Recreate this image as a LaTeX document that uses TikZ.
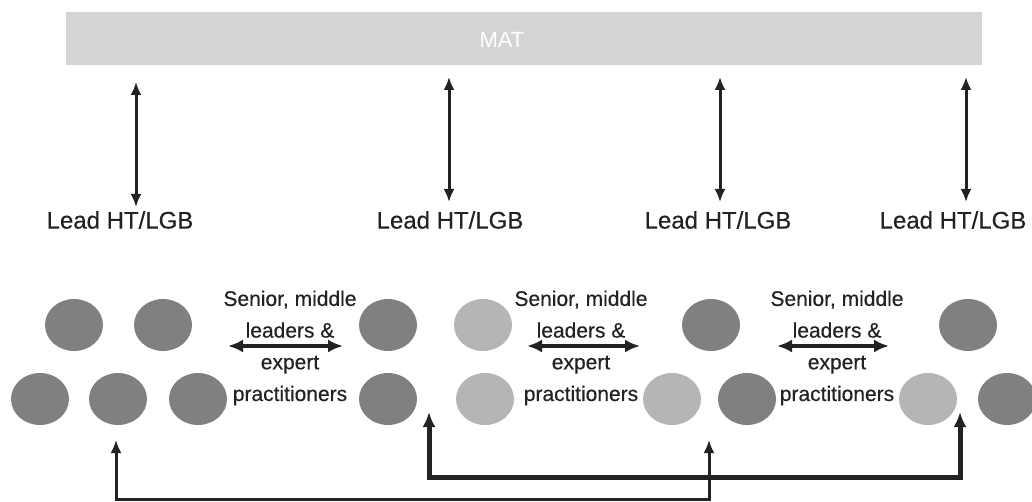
\documentclass[tikz,border=0pt]{standalone}
\usepackage{fontspec}
\setmainfont{Liberation Sans}
\newfontfamily\scanfont[FakeBold=0.4]{Liberation Sans}
\usetikzlibrary{arrows.meta,positioning,shapes.geometric}

\definecolor{speck}{HTML}{808080}
\definecolor{specklight}{HTML}{B5B5B5}
\definecolor{matgrey}{HTML}{D4D4D4}
\definecolor{ink}{HTML}{222222}

\tikzset{
  school/.style={ellipse, minimum width=58pt, minimum height=52pt, inner sep=0pt, fill=speck},
  schoollight/.style={school, fill=specklight},
  lead/.style={inner sep=0pt, text=ink, font=\scanfont\fontsize{24}{28}\selectfont},
  team/.style={inner sep=0pt, align=center, text=ink, font=\scanfont\fontsize{21}{31.7}\selectfont},
  updown/.style={draw=ink, line width=3pt, {Latex[length=13pt,width=11pt]}-{Latex[length=13pt,width=11pt]}},
  sideways/.style={draw=ink, line width=4.5pt, {Latex[length=15pt,width=13pt]}-{Latex[length=15pt,width=13pt]}},
  feedthin/.style={draw=ink, line width=3pt, {Latex[length=13pt,width=11pt]}-{Latex[length=13pt,width=11pt]}},
  feedthick/.style={draw=ink, line width=5pt, {Latex[length=15pt,width=13pt]}-{Latex[length=15pt,width=13pt]}}
}

\begin{document}
\begin{tikzpicture}[x=1pt,y=-1pt]
\useasboundingbox (0,0) rectangle (1032,502);

% the trust
\node[fill=matgrey, minimum width=916pt, minimum height=53pt, inner sep=0pt] (mat) at (524,38.5) {};
\node[text=white, font=\fontsize{22}{26}\selectfont, inner sep=0pt] (matname) at (502,40) {MAT};

% lead heads
\node[lead] (lead1) at (120,220) {Lead HT/LGB};
\node[lead] (lead2) at (450,220) {Lead HT/LGB};
\node[lead] (lead3) at (718,220) {Lead HT/LGB};
\node[lead] (lead4) at (953,220) {Lead HT/LGB};

\coordinate (up1) at (136,82);   \coordinate (down1) at (136,207);
\coordinate (up2) at (449,77);   \coordinate (down2) at (449,202);
\coordinate (up3) at (720,77);   \coordinate (down3) at (720,202);
\coordinate (up4) at (966,77);   \coordinate (down4) at (966,202);
\draw[updown] (up1) -- (down1);
\draw[updown] (up2) -- (down2);
\draw[updown] (up3) -- (down3);
\draw[updown] (up4) -- (down4);

% schools
\node[school] (s11) at (74,325) {};
\node[school] (s12) at (163,325) {};
\node[school] (s13) at (388,325) {};
\node[schoollight] (s14) at (483,325) {};
\node[school] (s15) at (711,325) {};
\node[school] (s16) at (968,325) {};

\node[school] (s21) at (40,399) {};
\node[school] (s22) at (118,399) {};
\node[school] (s23) at (198,399) {};
\node[school] (s24) at (388,399) {};
\node[schoollight] (s25) at (485,399) {};
\node[schoollight] (s26) at (672,399) {};
\node[school] (s27) at (747,399) {};
\node[schoollight] (s28) at (928,399) {};
\node[school] (s29) at (1007,399) {};

% shared staff
\node[team] (team1) at (290,348) {Senior, middle\\leaders \&\\expert\\practitioners};
\node[team] (team2) at (581,348) {Senior, middle\\leaders \&\\expert\\practitioners};
\node[team] (team3) at (837,348) {Senior, middle\\leaders \&\\expert\\practitioners};

\coordinate (l1) at (228,346); \coordinate (r1) at (343,346);
\coordinate (l2) at (527,346); \coordinate (r2) at (640,346);
\coordinate (l3) at (777,346); \coordinate (r3) at (889,346);
\draw[sideways] (l1) -- (r1);
\draw[sideways] (l2) -- (r2);
\draw[sideways] (l3) -- (r3);

% links between schools
\coordinate (fa1) at (116,440); \coordinate (fa2) at (709,440); \coordinate (fabase) at (400,499);
\coordinate (fb1) at (429,412); \coordinate (fb2) at (960,412); \coordinate (fbbase) at (700,477);
\draw[feedthick] (fb1) |- (fbbase) -| (fb2);
\draw[feedthin] (fa1) |- (fabase) -| (fa2);
\end{tikzpicture}
\end{document}
